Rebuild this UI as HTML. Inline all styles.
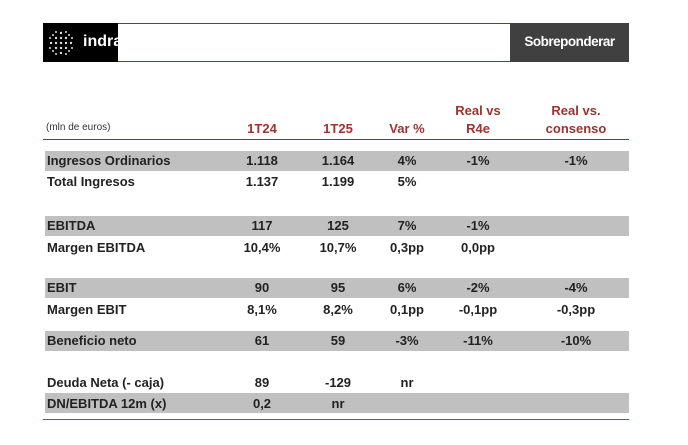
<!DOCTYPE html>
<html><head><style>
body{margin:0;width:688px;height:445px;background:#fff;position:relative;font-family:"Liberation Sans",Arial,sans-serif;overflow:hidden}
.a{position:absolute}
.band{position:absolute;left:45px;width:584px;height:20px;background:#c0c0c0}
.t{position:absolute;font-weight:bold;font-size:13px;color:#222;white-space:nowrap;line-height:16px}
.c{transform:translateX(-50%)}
.h{position:absolute;font-weight:bold;font-size:13px;color:#a2312e;text-align:center;line-height:18px;transform:translateX(-50%);white-space:nowrap}
</style></head><body>
<div class="a" style="left:43px;top:23px;width:586px;height:1px;background:#9b2b2b"></div>
<div class="a" style="left:43px;top:61px;width:586px;height:1px;background:#9b2b2b"></div>
<div class="a" style="left:43px;top:23px;width:75px;height:39px;background:#000"></div>
<svg class="a" style="left:46px;top:28px" width="30" height="30">
<g fill="#ddd">
<circle cx="15" cy="15" r="1.2"/><circle cx="10" cy="10" r="1.2"/><circle cx="20" cy="10" r="1.2"/><circle cx="10" cy="20" r="1.2"/><circle cx="20" cy="20" r="1.2"/>
<circle cx="15" cy="5" r="1.2"/><circle cx="15" cy="25" r="1.2"/><circle cx="5" cy="15" r="1.2"/><circle cx="25" cy="15" r="1.2"/>
<circle cx="15" cy="10" r="1.2"/><circle cx="15" cy="20" r="1.2"/><circle cx="10" cy="15" r="1.2"/><circle cx="20" cy="15" r="1.2"/>
<circle cx="7" cy="7" r="1"/><circle cx="23" cy="7" r="1"/><circle cx="7" cy="23" r="1"/><circle cx="23" cy="23" r="1"/>
<circle cx="10" cy="4" r="1"/><circle cx="20" cy="4" r="1"/><circle cx="10" cy="26" r="1"/><circle cx="20" cy="26" r="1"/>
<circle cx="4" cy="10" r="1"/><circle cx="4" cy="20" r="1"/><circle cx="26" cy="10" r="1"/><circle cx="26" cy="20" r="1"/>
</g></svg>
<div class="a" style="left:83px;top:33px;color:#fff;font-weight:bold;font-size:16px;letter-spacing:0">indra</div>
<div class="a" style="left:510px;top:23px;width:119px;height:39px;background:#404040"></div>
<div class="a" style="left:510px;top:34px;width:119px;text-align:center;color:#fff;font-weight:bold;font-size:13.5px;letter-spacing:-0.5px">Sobreponderar</div>

<div class="a" style="left:46px;top:122px;font-size:10px;color:#333">(mln de euros)</div>
<div class="h" style="left:262px;top:120px">1T24</div>
<div class="h" style="left:338px;top:120px">1T25</div>
<div class="h" style="left:407px;top:120px">Var %</div>
<div class="h" style="left:478px;top:102px">Real vs<br>R4e</div>
<div class="h" style="left:576px;top:102px">Real vs.<br>consenso</div>
<div class="a" style="left:43px;top:139px;width:586px;height:1px;background:#9b2b2b"></div>

<div class="band" style="top:151px"></div>
<div class="band" style="top:216px"></div>
<div class="band" style="top:278px"></div>
<div class="band" style="top:331px"></div>
<div class="band" style="top:393px"></div>
<div class="a" style="left:43px;top:419px;width:586px;height:1px;background:#b03a3a"></div>

<div class="t" style="left:47px;top:153px">Ingresos Ordinarios</div>
<div class="t c" style="left:262px;top:153px">1.118</div><div class="t c" style="left:338px;top:153px">1.164</div><div class="t c" style="left:407px;top:153px">4%</div><div class="t c" style="left:478px;top:153px">-1%</div><div class="t c" style="left:576px;top:153px">-1%</div>
<div class="t" style="left:47px;top:174px">Total Ingresos</div>
<div class="t c" style="left:262px;top:174px">1.137</div><div class="t c" style="left:338px;top:174px">1.199</div><div class="t c" style="left:407px;top:174px">5%</div>

<div class="t" style="left:47px;top:218px">EBITDA</div>
<div class="t c" style="left:262px;top:218px">117</div><div class="t c" style="left:338px;top:218px">125</div><div class="t c" style="left:407px;top:218px">7%</div><div class="t c" style="left:478px;top:218px">-1%</div>
<div class="t" style="left:47px;top:240px">Margen EBITDA</div>
<div class="t c" style="left:262px;top:240px">10,4%</div><div class="t c" style="left:338px;top:240px">10,7%</div><div class="t c" style="left:407px;top:240px">0,3pp</div><div class="t c" style="left:478px;top:240px">0,0pp</div>

<div class="t" style="left:47px;top:280px">EBIT</div>
<div class="t c" style="left:262px;top:280px">90</div><div class="t c" style="left:338px;top:280px">95</div><div class="t c" style="left:407px;top:280px">6%</div><div class="t c" style="left:478px;top:280px">-2%</div><div class="t c" style="left:576px;top:280px">-4%</div>
<div class="t" style="left:47px;top:302px">Margen EBIT</div>
<div class="t c" style="left:262px;top:302px">8,1%</div><div class="t c" style="left:338px;top:302px">8,2%</div><div class="t c" style="left:407px;top:302px">0,1pp</div><div class="t c" style="left:478px;top:302px">-0,1pp</div><div class="t c" style="left:576px;top:302px">-0,3pp</div>

<div class="t" style="left:47px;top:333px">Beneficio neto</div>
<div class="t c" style="left:262px;top:333px">61</div><div class="t c" style="left:338px;top:333px">59</div><div class="t c" style="left:407px;top:333px">-3%</div><div class="t c" style="left:478px;top:333px">-11%</div><div class="t c" style="left:576px;top:333px">-10%</div>

<div class="t" style="left:47px;top:375px">Deuda Neta (- caja)</div>
<div class="t c" style="left:262px;top:375px">89</div><div class="t c" style="left:338px;top:375px">-129</div><div class="t c" style="left:407px;top:375px">nr</div>
<div class="t" style="left:47px;top:396px">DN/EBITDA 12m (x)</div>
<div class="t c" style="left:262px;top:396px">0,2</div><div class="t c" style="left:338px;top:396px">nr</div>
</body></html>
